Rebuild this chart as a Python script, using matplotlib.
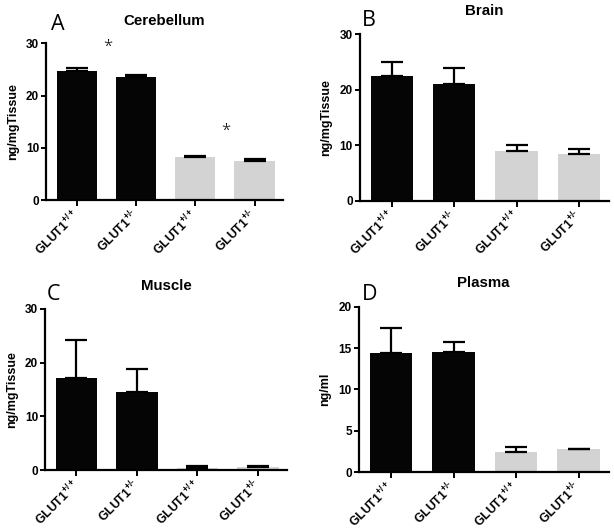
#!/usr/bin/env python3
"""
GLUT1 tissue concentration bar panels (Prism style) in matplotlib.
"""

import matplotlib

matplotlib.use("Agg")
import matplotlib.pyplot as plt

plt.rcParams["font.family"] = ["Liberation Sans", "DejaVu Sans"]
plt.rcParams["mathtext.fontset"] = "custom"
plt.rcParams["mathtext.bf"] = "Liberation Sans:bold"
plt.rcParams["mathtext.rm"] = "Liberation Sans:bold"
plt.rcParams["mathtext.default"] = "bf"

# Data
GROUPS = [r"GLUT1$^{+/+}$", r"GLUT1$^{+/\text{-}}$",
          r"GLUT1$^{+/+}$", r"GLUT1$^{+/\text{-}}$"]

CEREBELLUM_MEAN = [24.7, 23.6, 8.2, 7.5]
CEREBELLUM_SEM = [0.5, 0.4, 0.3, 0.35]
BRAIN_MEAN = [22.5, 21.0, 9.0, 8.35]
BRAIN_SEM = [2.5, 2.9, 1.0, 0.95]
MUSCLE_MEAN = [17.2, 14.6, 0.4, 0.5]
MUSCLE_SEM = [7.1, 4.2, 0.35, 0.25]
PLASMA_MEAN = [14.4, 14.5, 2.45, 2.8]
PLASMA_SEM = [3.0, 1.25, 0.65, 0.07]

STAR_POS = [(0.52, 29.3), (2.52, 13.2)]

BLACK = "#050505"
GRAY = "#d3d3d3"
COLORS = [BLACK, BLACK, GRAY, GRAY]


def style_axes(ax, ymax, yticks):
    for side in ("top", "right"):
        ax.spines[side].set_visible(False)
    for side in ("left", "bottom"):
        ax.spines[side].set_linewidth(1.6)
    ax.set_ylim(0, ymax)
    ax.set_yticks(yticks)
    ax.set_xlim(-0.52, 3.48)
    ax.set_xticks(range(len(GROUPS)))
    ax.set_xticklabels(GROUPS, rotation=45, ha="right", va="center",
                       rotation_mode="anchor", fontsize=8.8, fontweight="bold")
    ax.tick_params(axis="x", length=4, width=1.4, pad=5)
    ax.tick_params(axis="y", length=3.5, width=1.4, pad=1.5, labelsize=8.5)
    for lab in ax.get_yticklabels():
        lab.set_fontweight("bold")


def make_panel(fig, rect, mean, sem, letter, title, ylab, ymax, yticks,
               letter_xy, title_y):
    ax = fig.add_axes(rect)
    x = range(len(mean))
    ax.bar(x, mean, width=0.68, color=COLORS, zorder=2,
           yerr=[[0] * len(sem), sem], capsize=8,
           error_kw=dict(elinewidth=1.6, capthick=1.6, ecolor="black"))
    style_axes(ax, ymax, yticks)
    ax.set_ylabel(ylab, fontsize=9, fontweight="bold", labelpad=5)
    fig.text(letter_xy[0] / 614, 1 - letter_xy[1] / 530, letter,
             fontsize=15.5, family="Open Sans", ha="center", va="center")
    ax.text(0.5, title_y, title, transform=ax.transAxes, ha="center",
            va="center", fontsize=10.8, fontweight="bold")
    return ax


def main():
    fig = plt.figure(figsize=(6.14, 5.30), dpi=100)

    ax_a = make_panel(fig, [0.0749, 0.6226, 0.3860, 0.2957],
                      CEREBELLUM_MEAN, CEREBELLUM_SEM, "A", "Cerebellum",
                      "ng/mgTissue", 30, [0, 10, 20, 30], (58, 24), 1.145)
    for sx, sy in STAR_POS:
        ax_a.text(sx, sy, "*", ha="center", va="center", fontsize=12,
                  family="Open Sans", fontweight="light")

    make_panel(fig, [0.5858, 0.6213, 0.4056, 0.3145],
               BRAIN_MEAN, BRAIN_SEM, "B", "Brain",
               "ng/mgTissue", 30, [0, 10, 20, 30], (369, 20), 1.14)

    make_panel(fig, [0.0733, 0.1132, 0.3941, 0.3038],
               MUSCLE_MEAN, MUSCLE_SEM, "C", "Muscle",
               "ng/mgTissue", 30, [0, 10, 20, 30], (53, 295), 1.14)

    make_panel(fig, [0.5842, 0.1089, 0.4072, 0.3124],
               PLASMA_MEAN, PLASMA_SEM, "D", "Plasma",
               "ng/ml", 20, [0, 5, 10, 15, 20], (370, 295), 1.145)

    fig.savefig("out.png", dpi=100, facecolor="white")
    plt.close(fig)


if __name__ == "__main__":
    main()
